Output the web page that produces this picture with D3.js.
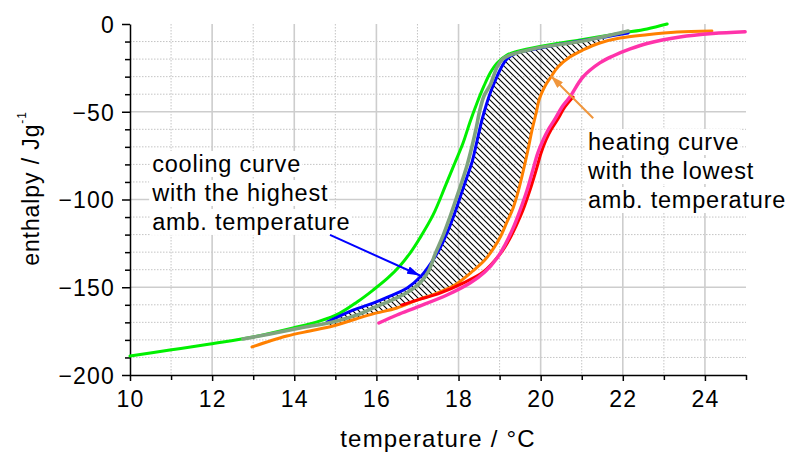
<!DOCTYPE html>
<html>
<head>
<meta charset="utf-8">
<script src="https://cdn.jsdelivr.net/npm/d3@7"></script>
<style>
  body { margin: 0; background: #fff; }
  svg { display: block; font-family: "Liberation Sans", Arial, sans-serif; }
</style>
</head>
<body>
<svg id="chart" width="788" height="457"></svg>
<script>
// Enthalpy curves (J/g) vs temperature (°C): cooling and heating runs,
// hatched band = hysteresis between the two highlighted curves.

const xMajor = [10, 12, 14, 16, 18, 20, 22, 24];
const xMinor = [11, 13, 15, 17, 19, 21, 23, 25];
const yMajor = [0, -50, -100, -150, -200];
const yMinor = [-10, -20, -30, -40, -60, -70, -80, -90, -110, -120, -130, -140, -160, -170, -180, -190];

// [temperature, enthalpy]
const greenCurve = [[10.0, -189.2], [10.97, -185.8], [11.95, -182.3], [13.0, -178.3], [13.97, -173.2],
  [14.63, -169.2], [15.11, -164.7], [15.53, -158.4], [15.92, -151.6], [16.28, -144.7], [16.57, -137.9],
  [16.82, -130.5], [17.06, -121.9], [17.38, -108.8], [17.69, -91.7], [17.91, -79.2], [18.11, -67.8],
  [18.28, -55.8], [18.45, -45.0], [18.62, -35.3], [18.77, -27.9], [18.94, -22.2], [19.18, -17.7],
  [19.42, -15.7], [19.98, -12.8], [20.96, -9.1], [22.0, -5.1], [22.59, -2.8], [23.08, 0]];
const blueCurve = [[14.80, -169.8], [15.43, -163.0], [15.92, -159.0], [16.33, -155.0], [16.75, -150.4],
  [17.09, -143.6], [17.33, -136.2], [17.55, -127.6], [17.72, -119.1], [17.89, -108.8], [18.04, -98.6],
  [18.18, -88.9], [18.33, -78.6], [18.45, -66.7], [18.57, -54.7], [18.69, -45.0], [18.79, -38.2],
  [18.89, -32.5], [19.01, -26.2], [19.18, -19.9], [19.42, -16.5], [19.74, -14.8], [20.11, -13.1],
  [20.96, -9.7], [21.57, -7.4], [22.13, -5.1]];
const grayCurve = [[12.75, -179.5], [13.41, -176.6], [14.14, -173.2], [14.94, -169.8], [15.60, -165.2],
  [15.97, -161.3], [16.38, -157.3], [16.77, -152.7], [17.06, -147.6], [17.26, -141.3], [17.43, -131.1],
  [17.62, -120.8], [17.79, -110.0], [17.94, -99.7], [18.08, -90.0], [18.21, -80.3], [18.33, -69.5],
  [18.43, -59.3], [18.52, -49.0], [18.62, -41.0], [18.77, -34.8], [18.94, -24.5], [19.08, -19.9],
  [19.25, -17.7], [19.50, -16.0], [19.98, -13.4], [21.03, -9.7], [22.13, -4.0]];
const orangeCurve = [[12.97, -184.0], [13.41, -180.6], [13.82, -177.8], [14.38, -174.9], [14.94, -172.1],
  [15.50, -168.1], [15.92, -165.2], [16.50, -161.8], [16.99, -157.3], [17.48, -153.3], [17.91, -148.7],
  [18.35, -140.7], [18.64, -134.5], [18.86, -127.6], [19.03, -120.8], [19.18, -112.8], [19.33, -104.8],
  [19.45, -95.7], [19.57, -84.3], [19.69, -71.8], [19.79, -60.4], [19.89, -50.7], [19.96, -43.3],
  [20.06, -37.6], [20.15, -33.6], [20.25, -30.2], [20.42, -24.5], [20.71, -18.8], [21.03, -14.8],
  [21.44, -10.8], [21.93, -8.0], [22.59, -6.1], [23.32, -4.6], [24.17, -4.0]];
const redCurve = [[16.62, -160.1], [16.99, -157.3], [17.55, -153.3], [18.11, -147.6], [18.60, -141.3],
  [19.01, -131.1], [19.23, -123.1], [19.40, -115.1], [19.57, -106.0], [19.74, -94.6], [19.89, -83.2],
  [20.01, -73.5], [20.13, -66.1], [20.25, -60.4], [20.42, -54.1], [20.59, -47.3], [20.79, -41.6]];
const pinkCurve = [[16.06, -170.4], [16.50, -165.8], [16.99, -161.3], [17.72, -154.4], [18.28, -147.6],
  [18.64, -141.3], [18.94, -133.3], [19.13, -125.9], [19.33, -116.2], [19.50, -106.0], [19.67, -94.6],
  [19.81, -83.2], [19.93, -73.5], [20.06, -66.1], [20.18, -60.4], [20.35, -54.1], [20.52, -47.3],
  [20.71, -41.6], [21.03, -30.2], [21.44, -22.2], [21.76, -18.2], [22.18, -14.2], [22.59, -11.1],
  [23.39, -7.4], [24.19, -5.4], [24.98, -4.4]];

// hatched band: between blue (left) and orange (right) over this range
const hatchRange = [14.8, 21.7];

const coolingNote = ["cooling curve", "with the highest", "amb. temperature"];
const heatingNote = ["heating curve", "with the lowest", "amb. temperature"];
const coolingNoteAt = [10.54, -84.3];
const heatingNoteAt = [21.15, -71.8];
const blueArrow = [[14.87, -120.2], [17.06, -143.3]];
const orangeArrow = [[21.28, -53.7], [20.25, -29.6]];

const svg = d3.select("#chart");
const x = d3.scaleLinear().domain([10, 25]).range([130, 746]);
const y = d3.scaleLinear().domain([-200, 0]).range([375, 24]);

// grid
const grid = svg.append("g");
grid.selectAll(".vminor").data(xMinor.filter(d => d < 25)).join("line")
  .attr("x1", d => x(d)).attr("x2", d => x(d)).attr("y1", y(0)).attr("y2", y(-200))
  .attr("stroke", "#c4c4c4").attr("stroke-width", 1).attr("stroke-dasharray", "1.5,1.5");
grid.selectAll(".hminor").data(yMinor).join("line")
  .attr("x1", x(10)).attr("x2", x(25)).attr("y1", d => y(d)).attr("y2", d => y(d))
  .attr("stroke", "#c4c4c4").attr("stroke-width", 1).attr("stroke-dasharray", "1.5,1.5");
grid.selectAll(".vmajor").data(xMajor.filter(d => d > 10)).join("line")
  .attr("x1", d => x(d)).attr("x2", d => x(d)).attr("y1", y(0)).attr("y2", y(-200))
  .attr("stroke", "#cdcdcd").attr("stroke-width", 1.6);
grid.selectAll(".hmajor").data(yMajor.filter(d => d > -200 && d < 0)).join("line")
  .attr("x1", x(10)).attr("x2", x(25)).attr("y1", d => y(d)).attr("y2", d => y(d))
  .attr("stroke", "#cdcdcd").attr("stroke-width", 1.6);

// hatch pattern
const defs = svg.append("defs");
defs.append("pattern")
  .attr("id", "hatch").attr("patternUnits", "userSpaceOnUse")
  .attr("width", 6).attr("height", 6)
  .append("path")
  .attr("d", "M-1,-1 L7,7 M-1,5 L1,7 M5,-1 L7,1")
  .attr("stroke", "#000").attr("stroke-width", 1.1);

const marker = (id, color, len, wid) => {
  defs.append("marker")
    .attr("id", id).attr("markerUnits", "userSpaceOnUse")
    .attr("viewBox", `0 0 ${len} ${wid}`)
    .attr("refX", len).attr("refY", wid / 2)
    .attr("markerWidth", len).attr("markerHeight", wid)
    .attr("orient", "auto")
    .append("path")
    .attr("d", `M0,0 L${len},${wid / 2} L0,${wid} Z`)
    .attr("fill", color);
};
marker("arrBlue", "#0000ff", 13, 8);
marker("arrOrange", "#f0963c", 13, 8);

const line = d3.line().x(d => x(d[0])).y(d => y(d[1])).curve(d3.curveCatmullRom.alpha(0.5));

const inRange = d => d[0] >= hatchRange[0] && d[0] <= hatchRange[1];
const band = blueCurve.filter(inRange).concat(orangeCurve.filter(inRange).reverse());
svg.append("path")
  .attr("d", d3.line().x(d => x(d[0])).y(d => y(d[1])).curve(d3.curveCatmullRomClosed.alpha(0.5))(band))
  .attr("fill", "url(#hatch)");

// axes
const axisFont = g => g.selectAll("text")
  .attr("font-size", 23).attr("letter-spacing", "1.2px")
  .attr("fill", "#000").attr("font-family", "'Liberation Sans', Arial, sans-serif");

const yAxis = svg.append("g").attr("transform", `translate(${x(10)},0)`)
  .call(d3.axisLeft(y).tickValues(yMajor).tickSize(8).tickPadding(7).tickSizeOuter(0))
  .call(axisFont);
svg.append("g").attr("transform", `translate(${x(10)},0)`)
  .call(d3.axisLeft(y).tickValues(yMinor).tickSize(5).tickFormat("").tickSizeOuter(0))
  .call(g => g.select(".domain").remove());

svg.append("g").attr("transform", `translate(0,${y(-200)})`)
  .call(d3.axisBottom(x).tickValues(xMajor).tickSize(6).tickPadding(10).tickSizeOuter(0))
  .call(axisFont);
svg.append("g").attr("transform", `translate(0,${y(-200)})`)
  .call(d3.axisBottom(x).tickValues(xMinor).tickSize(5).tickFormat("").tickSizeOuter(0))
  .call(g => g.select(".domain").remove());

svg.selectAll(".domain, .tick line").attr("stroke", "#000").attr("stroke-width", 1.5);
yAxis.selectAll(".tick text").attr("dy", "0.36em");

// curves
const curves = [
  { data: greenCurve, color: "#00f000", width: 3 },
  { data: blueCurve, color: "#0000ff", width: 3 },
  { data: grayCurve, color: "#7fa37f", width: 3.6 },
  { data: orangeCurve, color: "#ff8000", width: 3 },
  { data: redCurve, color: "#ff0000", width: 3 },
  { data: pinkCurve, color: "#ff33aa", width: 3.4 }
];
svg.append("g").selectAll("path").data(curves).join("path")
  .attr("d", d => line(d.data))
  .attr("fill", "none")
  .attr("stroke", d => d.color)
  .attr("stroke-width", d => d.width)
  .attr("stroke-linecap", "round");

// axis titles
svg.append("text")
  .attr("x", (x(10) + x(25)) / 2).attr("y", 447)
  .attr("text-anchor", "middle").attr("font-size", 24).attr("letter-spacing", "1.2px")
  .text("temperature / °C");

const yTitle = svg.append("text")
  .attr("transform", `translate(39,${(y(0) + y(-200)) / 2 - 11}) rotate(-90)`)
  .attr("text-anchor", "middle").attr("font-size", 23).attr("letter-spacing", "0.9px");
yTitle.append("tspan").text("enthalpy / Jg");
yTitle.append("tspan").attr("font-size", 12).attr("dy", "-1.1em").text("-1");

// annotations with white backing per line
function note(lines, at) {
  const g = svg.append("g");
  lines.forEach((t, i) => {
    const txt = g.append("text")
      .attr("x", x(at[0])).attr("y", y(at[1]) + i * 29)
      .attr("font-size", 23.5).attr("letter-spacing", "0.8px").attr("fill", "#000")
      .text(t);
    const b = txt.node().getBBox();
    g.insert("rect", "text")
      .attr("x", b.x - 2).attr("y", b.y).attr("width", b.width + 3).attr("height", b.height)
      .attr("fill", "#fff");
  });
}
note(coolingNote, coolingNoteAt);
note(heatingNote, heatingNoteAt);

svg.append("line")
  .attr("x1", x(blueArrow[0][0])).attr("y1", y(blueArrow[0][1]))
  .attr("x2", x(blueArrow[1][0])).attr("y2", y(blueArrow[1][1]))
  .attr("stroke", "#0000ff").attr("stroke-width", 2).attr("marker-end", "url(#arrBlue)");
svg.append("line")
  .attr("x1", x(orangeArrow[0][0])).attr("y1", y(orangeArrow[0][1]))
  .attr("x2", x(orangeArrow[1][0])).attr("y2", y(orangeArrow[1][1]))
  .attr("stroke", "#f0963c").attr("stroke-width", 2).attr("marker-end", "url(#arrOrange)");
</script>
</body>
</html>
